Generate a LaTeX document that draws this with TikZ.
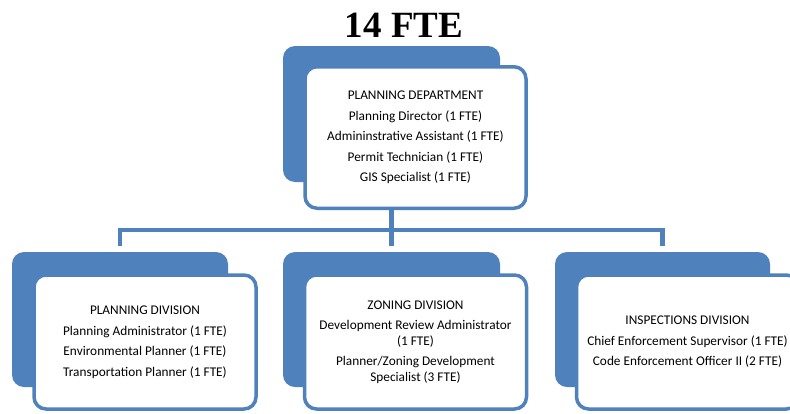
\documentclass[tikz,border=0pt]{standalone}
\usepackage{fontspec}
\setmainfont{Carlito}
\newfontfamily\titlefont{Liberation Serif}
\usetikzlibrary{calc}
\definecolor{boxblue}{HTML}{4F81BD}

\begin{document}
\begin{tikzpicture}[x=1pt,y=-1pt]
    \tikzset{
      backbox/.style={
        fill=boxblue,
        rounded corners=12pt,
        minimum width=217pt,
        minimum height=136pt,
        inner sep=0pt,
      },
      frontbox/.style={
        draw=boxblue,
        fill=white,
        line width=3.5pt,
        rounded corners=12pt,
        minimum width=221pt,
        minimum height=136pt,
        align=center,
        font=\fontsize{13.3}{15.3}\selectfont,
      },
      conn/.style={
        draw=boxblue,
        line width=4.5pt,
        line join=miter,
      }
    }

    \pgfmathsetmacro{\bus}{230}
    \pgfmathsetmacro{\gap}{6}

    \clip (0,0) rectangle (790,413);

    \node[font=\titlefont\fontsize{37}{40}\selectfont\bfseries, anchor=base]
        (title) at (404,37) {14 FTE};

    % department on top
    \node[backbox] (dept-bk) at (391.5,114) {};
    \node[frontbox, minimum height=141.5pt] (dept) at (415.5,137.5)
        {PLANNING DEPARTMENT\\[5.2pt]
         Planning Director (1 FTE)\\[5.2pt]
         Admininstrative Assistant (1 FTE)\\[5.2pt]
         Permit Technician (1 FTE)\\[5.2pt]
         GIS Specialist (1 FTE)};

    % divisions
    \node[backbox, minimum width=216pt, minimum height=135pt] (plan-bk) at (120,319.5) {};
    \node[frontbox, minimum width=222pt, minimum height=134pt] (plan) at (145,342)
        {PLANNING DIVISION\\[5.2pt]
         Planning Administrator (1 FTE)\\[5.2pt]
         Environmental Planner (1 FTE)\\[5.2pt]
         Transportation Planner (1 FTE)};

    \node[backbox, minimum height=135pt] (zone-bk) at (391.5,319.5) {};
    \node[frontbox, minimum width=222pt, minimum height=134pt] (zone) at (415.5,342)
        {ZONING DIVISION\\[5.2pt]
         Development Review Administrator\\
         (1 FTE)\\[5.2pt]
         Planner/Zoning Development\\
         Specialist (3 FTE)};

    \node[backbox, minimum width=215pt, minimum height=135pt] (insp-bk) at (662.5,319.5) {};
    \node[frontbox, minimum width=222pt, minimum height=134pt] (insp) at (687.5,342)
        {INSPECTIONS DIVISION\\[5.2pt]
         Chief Enforcement Supervisor (1 FTE)\\[5.2pt]
         Code Enforcement Officer II (2 FTE)};

    % tree lines
    \draw[conn] (dept-bk.south |- dept.south) -- (dept-bk.south |- 0,\bus);
    \draw[conn]
           ($(plan-bk.north) + (0,-\gap)$)
        |- (insp-bk.north |- 0,\bus)
        -- ($(insp-bk.north) + (0,-\gap)$);
    \draw[conn] (zone-bk.north |- 0,\bus) -- ($(zone-bk.north) + (0,-\gap)$);
\end{tikzpicture}
\end{document}
